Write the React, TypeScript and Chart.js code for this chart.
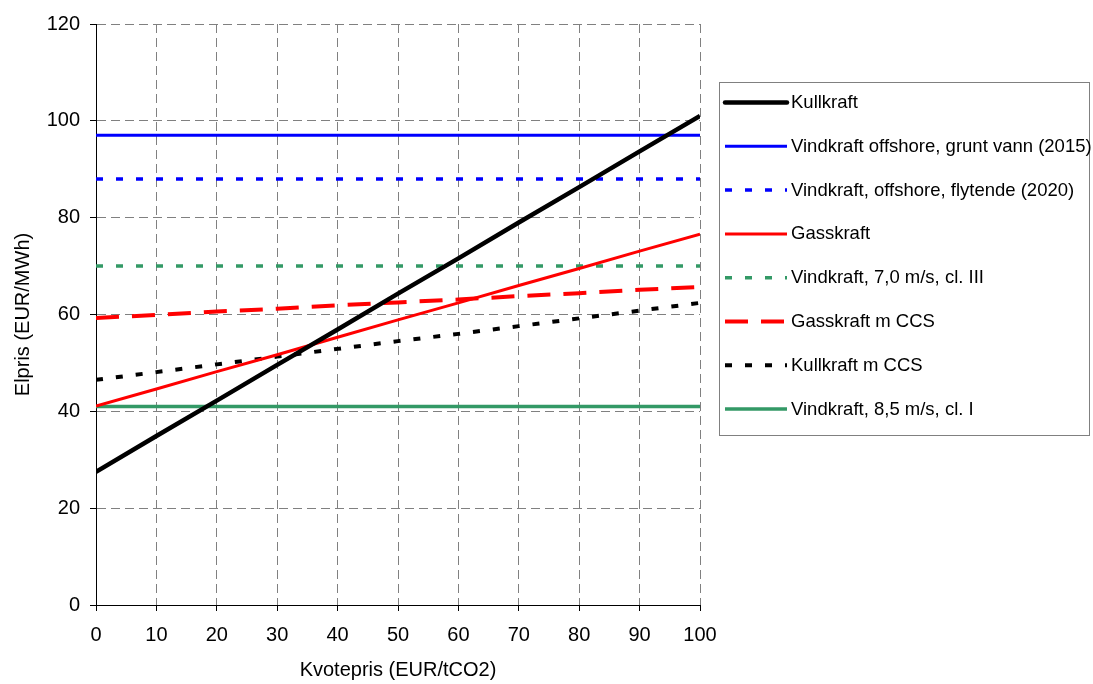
import React, { useEffect, useRef } from "react";
import { Chart, registerables } from "chart.js";

Chart.register(...registerables);

// ---- data ----
const kvotepris = [0, 10, 20, 30, 40, 50, 60, 70, 80, 90, 100];
const yTicks = [0, 20, 40, 60, 80, 100, 120];

const seriesLabels = [
  "Kullkraft",
  "Vindkraft offshore, grunt vann (2015)",
  "Vindkraft, offshore, flytende (2020)",
  "Gasskraft",
  "Vindkraft, 7,0 m/s, cl. III",
  "Gasskraft m CCS",
  "Kullkraft m CCS",
  "Vindkraft, 8,5 m/s, cl. I",
];

const kullkraft = [27.5, 34.9, 42.2, 49.6, 56.9, 64.3, 71.6, 79.0, 86.3, 93.7, 101.0];
const vindOffshoreGrunt = [97, 97, 97, 97, 97, 97, 97, 97, 97, 97, 97];
const vindOffshoreFlytende = [88, 88, 88, 88, 88, 88, 88, 88, 88, 88, 88];
const gasskraft = [41.1, 44.6, 48.2, 51.7, 55.3, 58.9, 62.4, 66.0, 69.5, 73.1, 76.6];
const vind70 = [70, 70, 70, 70, 70, 70, 70, 70, 70, 70, 70];
const gasskraftCCS = [59.3, 59.9, 60.6, 61.2, 61.9, 62.5, 63.1, 63.8, 64.4, 65.1, 65.7];
const kullkraftCCS = [46.5, 48.1, 49.7, 51.3, 52.9, 54.5, 56.0, 57.6, 59.2, 60.8, 62.4];
const vind85 = [41, 41, 41, 41, 41, 41, 41, 41, 41, 41, 41];

const seriesValues = [
  kullkraft,
  vindOffshoreGrunt,
  vindOffshoreFlytende,
  gasskraft,
  vind70,
  gasskraftCCS,
  kullkraftCCS,
  vind85,
];

const seriesStyles = [
  { color: "#000000", width: 4.5, dash: [] as number[] },
  { color: "#0000FF", width: 3, dash: [] as number[] },
  { color: "#0000FF", width: 3.5, dash: [7, 13] },
  { color: "#FF0000", width: 3, dash: [] as number[] },
  { color: "#339966", width: 3.5, dash: [7, 13] },
  { color: "#FF0000", width: 4, dash: [23, 13] },
  { color: "#000000", width: 4, dash: [7, 13] },
  { color: "#339966", width: 3.5, dash: [] as number[] },
];

const FONT = "'Liberation Sans', Arial, sans-serif";

export default function App() {
  const ref = useRef<HTMLCanvasElement | null>(null);

  useEffect(() => {
    document.body.style.margin = "0";
    const canvas = ref.current;
    if (!canvas) return;

    const boxLegend = {
      id: "boxLegend",
      afterDraw(chart: any) {
        const ctx = chart.ctx as CanvasRenderingContext2D;
        ctx.save();
        ctx.strokeStyle = "#808080";
        ctx.lineWidth = 1;
        ctx.setLineDash([]);
        ctx.strokeRect(719.5, 82.5, 370, 353);
        const startY = 102.5;
        const step = 43.8;
        chart.data.datasets.forEach((ds: any, i: number) => {
          const y = startY + i * step;
          ctx.save();
          ctx.strokeStyle = ds.borderColor;
          ctx.lineWidth = ds.borderWidth;
          ctx.setLineDash(ds.borderDash || []);
          ctx.lineCap = i === 0 ? "round" : "butt";
          ctx.beginPath();
          ctx.moveTo(725, y);
          ctx.lineTo(787, y);
          ctx.stroke();
          ctx.restore();
          ctx.fillStyle = "#000";
          ctx.font = `18.5px ${FONT}`;
          ctx.textBaseline = "middle";
          ctx.textAlign = "left";
          ctx.fillText(ds.label, 791, y + 0.5);
        });
        ctx.restore();
      },
    };

    const whiteBg = {
      id: "whiteBg",
      beforeDraw(chart: any) {
        const ctx = chart.ctx;
        ctx.save();
        ctx.fillStyle = "#fff";
        ctx.fillRect(0, 0, chart.width, chart.height);
        ctx.restore();
      },
    };

    const chart = new Chart(canvas, {
      type: "line",
      data: {
        datasets: seriesLabels.map((label, i) => ({
          label,
          data: kvotepris.map((x, j) => ({ x, y: seriesValues[i][j] })),
          borderColor: seriesStyles[i].color,
          backgroundColor: seriesStyles[i].color,
          borderWidth: seriesStyles[i].width,
          borderDash: seriesStyles[i].dash,
          pointRadius: 0,
          tension: 0,
          fill: false,
        })),
      },
      options: {
        animation: false,
        responsive: false,
        devicePixelRatio: 1,
        layout: { padding: { left: 0, top: 24, right: 393, bottom: 0 } },
        plugins: {
          legend: { display: false },
          tooltip: { enabled: false },
        },
        scales: {
          x: {
            type: "linear",
            min: 0,
            max: 100,
            ticks: {
              stepSize: 10,
              color: "#000",
              font: { family: FONT, size: 20 },
              padding: 12,
              maxRotation: 0,
            },
            grid: {
              color: "#808080",
              lineWidth: 1,
              tickColor: "#000",
              tickLength: 6,
              tickBorderDash: [],
            },
            border: { color: "#000", width: 1, dash: [9, 5] },
            title: {
              display: true,
              text: "Kvotepris (EUR/tCO2)",
              color: "#000",
              font: { family: FONT, size: 20 },
              padding: { top: 0, bottom: 2 },
            },
            afterFit(scale: any) {
              scale.height = 79;
            },
          },
          y: {
            type: "linear",
            min: 0,
            max: 120,
            afterBuildTicks(scale: any) {
              scale.ticks = yTicks.map((v) => ({ value: v }));
            },
            ticks: {
              color: "#000",
              font: { family: FONT, size: 20 },
              padding: 10,
            },
            grid: {
              color: "#808080",
              lineWidth: 1,
              tickColor: "#000",
              tickLength: 6,
              tickBorderDash: [],
            },
            border: { color: "#000", width: 1, dash: [9, 5] },
            title: {
              display: true,
              text: "Elpris (EUR/MWh)",
              color: "#000",
              font: { family: FONT, size: 20 },
              padding: { top: 11, bottom: 0 },
            },
            afterFit(scale: any) {
              scale.width = 96;
            },
          },
        },
      },
      plugins: [whiteBg, boxLegend],
    } as any);

    return () => chart.destroy();
  }, []);

  return (
    <div style={{ width: 1093, height: 684 }}>
      <canvas ref={ref} width={1093} height={684} style={{ display: "block" }} />
    </div>
  );
}
